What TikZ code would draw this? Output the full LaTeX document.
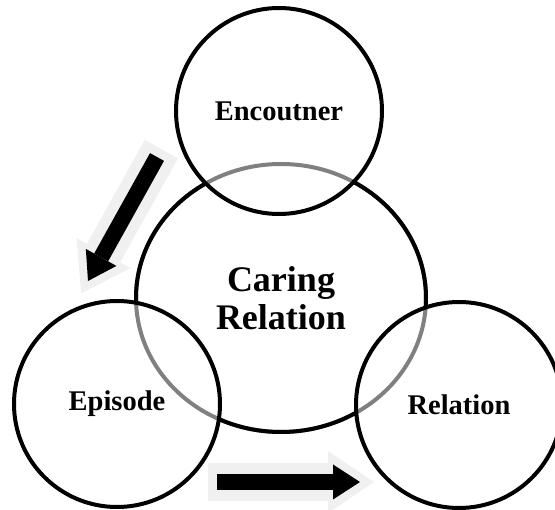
\documentclass[tikz,border=0pt]{standalone}
\usepackage{fontspec}
\setmainfont{Liberation Serif}
\usepackage{tikz}
\usetikzlibrary{shapes,arrows.meta,positioning,calc}

\begin{document}
\begin{tikzpicture}[x=1pt,y=-1pt,
    stage/.style={circle, draw=black, line width=4pt, minimum size=206pt, inner sep=0pt,
                  font=\fontsize{28.5}{30}\selectfont\bfseries},
    core/.style={ellipse, draw=black!50, line width=4pt, minimum width=290pt, minimum height=268pt,
                 inner sep=0pt, align=center, font=\fontsize{36}{38}\selectfont\bfseries},
    halo/.style={line width=38pt, draw=black!6, -{Triangle[width=62pt,length=46pt,line width=0pt]},
                 shorten <=-9pt, shorten >=-14pt},
    flow/.style={line width=16pt, draw=black, -{Triangle[width=35pt,length=27pt,line width=0pt]}}]
    \useasboundingbox (0,0) rectangle (555,510);

    % Arrows
    \coordinate (encTail) at (157,157);
    \coordinate (encHead) at (88,281);
    \coordinate (epiTail) at (217,482);
    \coordinate (epiHead) at (360,482);
    \draw[halo] (encTail) -- (encHead);
    \draw[halo] (epiTail) -- (epiHead);
    \draw[flow] (encTail) -- (encHead);
    \draw[flow] (epiTail) -- (epiHead);

    % Circles
    \node[core] (caring) at (281,298) {Caring\\Relation};
    \begin{scope}[even odd rule]
        \clip (0,0) rectangle (555,510)
            (279,111) circle[radius=103pt] (117,404) circle[radius=103pt] (459,405) circle[radius=103pt];
        \draw[line width=4pt] (caring.center) ellipse[x radius=145pt, y radius=134pt];
    \end{scope}
    \node[stage] (encounter) at (279,111) {Encoutner};
    \node[stage] (episode) at (117,404) {Episode};
    \node[stage] (relation) at (459,405) {Relation};
\end{tikzpicture}
\end{document}
